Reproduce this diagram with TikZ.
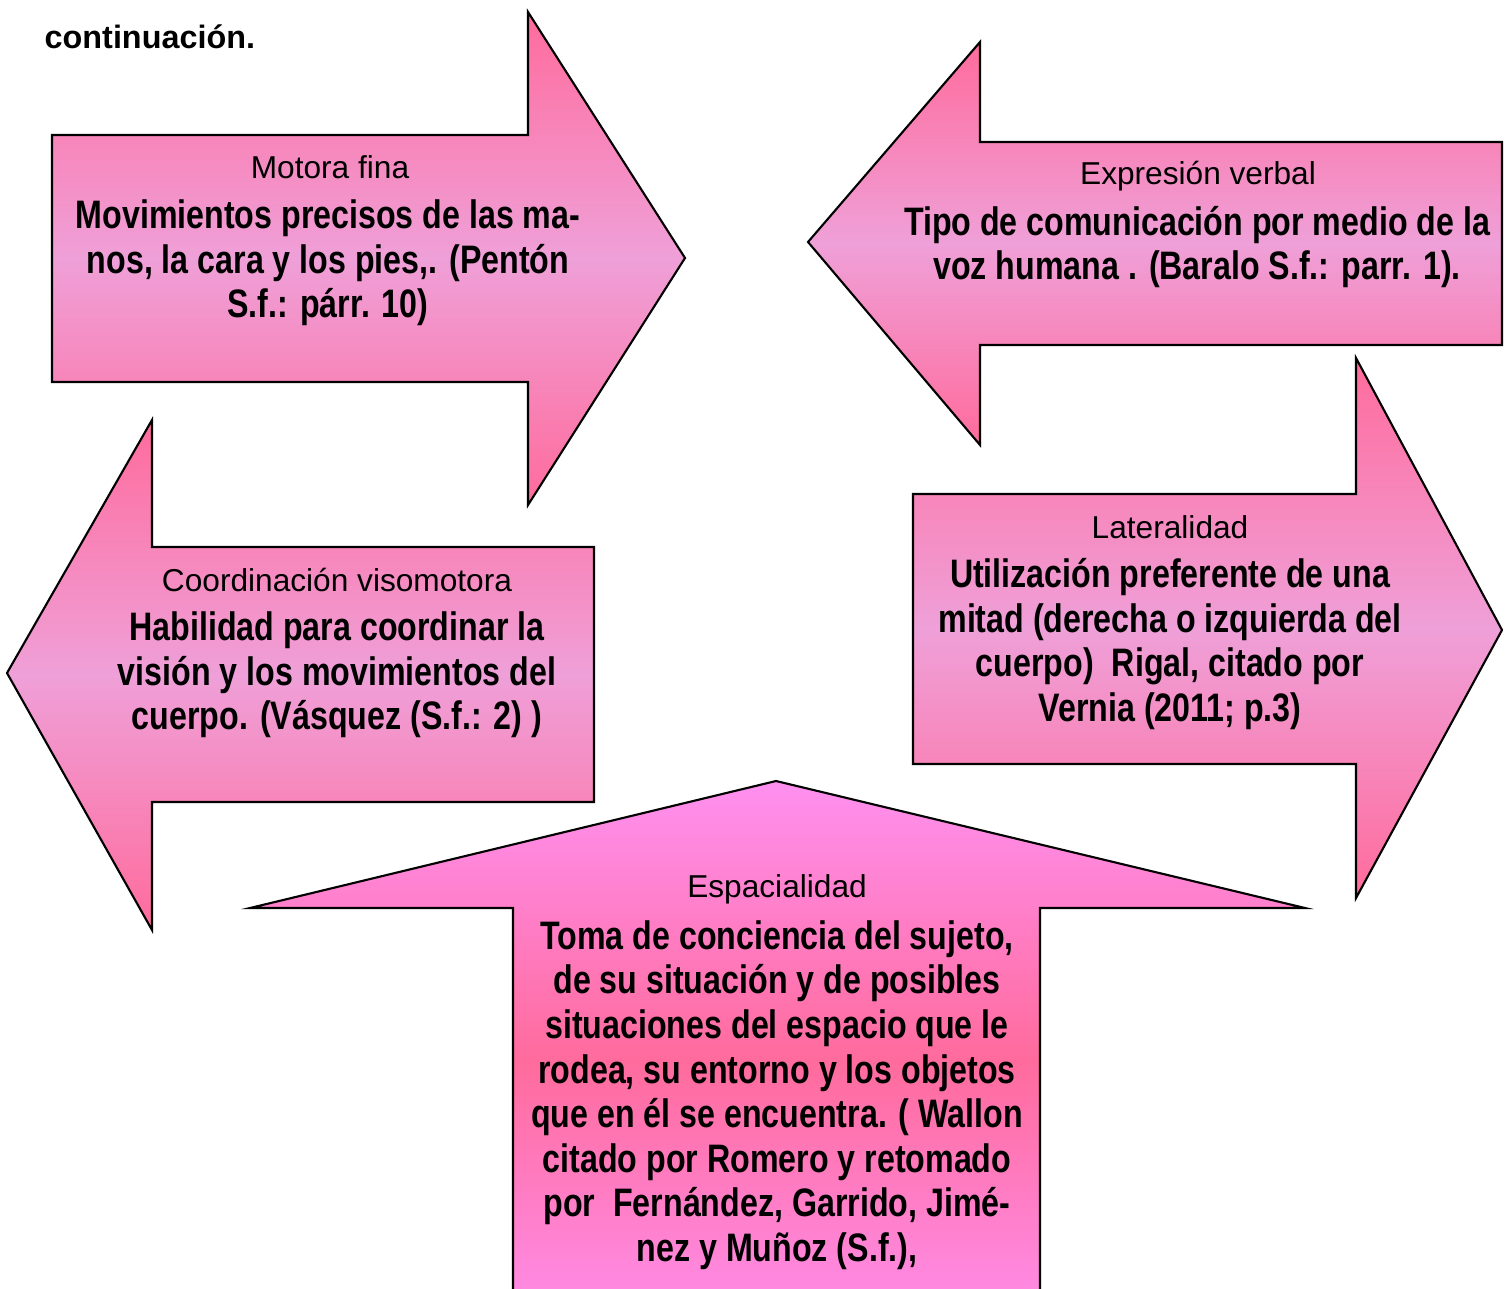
\documentclass[tikz,border=0pt]{standalone}
\usepackage{fontspec}
\setmainfont{Liberation Sans}
\newfontfamily\bodyfont[FakeStretch=0.81]{Liberation Sans}
\newfontfamily\headfont{Liberation Sans}
\definecolor{rosafuerte}{HTML}{FF6B9C}
\definecolor{rosaclaro}{HTML}{EFA0D8}
\definecolor{lila}{HTML}{FF90F0}
\tikzset{
  flecha/.style={draw=black, line width=0.6pt, top color=rosafuerte,
    bottom color=rosafuerte, middle color=rosaclaro},
  flechalila/.style={draw=black, line width=0.6pt, top color=lila,
    bottom color=lila, middle color=rosafuerte},
  titulo/.style={font=\headfont\fontsize{9}{10}\selectfont, inner sep=0pt},
  cuerpo/.style={font=\bodyfont\bfseries\fontsize{11.3}{12.66}\selectfont,
    align=center, inner sep=0pt},
}
\begin{document}
\begin{tikzpicture}[x=0.01cm, y=-0.01cm]
  \useasboundingbox (0,0) rectangle (1510,1288);
  \clip (0,0) rectangle (1510,1288);
  % flechas
  \path[flecha] (52,135) -- (528,135) -- (528,12) -- (685,258) -- (528,505)
    -- (528,382) -- (52,382) -- cycle;
  \path[flecha] (1502,142) -- (980,142) -- (980,42) -- (808,242) -- (980,445)
    -- (980,345) -- (1502,345) -- cycle;
  \path[flecha] (594,547) -- (152,547) -- (152,420) -- (7,673) -- (152,930)
    -- (152,802) -- (594,802) -- cycle;
  \path[flecha] (913,494) -- (1356,494) -- (1356,358) -- (1502,630) -- (1356,898)
    -- (1356,764) -- (913,764) -- cycle;
  \path[flechalila] (513,1340) -- (513,908) -- (250,908) -- (776,781) -- (1305,908)
    -- (1040,908) -- (1040,1340) -- cycle;
  % textos
  \node[font=\bfseries\fontsize{9.2}{11}\selectfont, anchor=west, inner sep=0pt]
    (continua) at (44,37) {continuación.};
  \node[titulo] (motoraT) at (330,167) {Motora fina};
  \node[cuerpo] (motoraB) at (328,263) {Movimientos precisos de las ma-\\nos, la cara y los pies,. (Pentón\\S.f.: párr. 10)};
  \node[titulo] (verbalT) at (1198,176) {Expresión verbal};
  \node[cuerpo] (verbalB) at (1197,247) {Tipo de comunicación por medio de la\\voz humana . (Baralo S.f.: parr. 1).};
  \node[titulo] (visoT) at (337,580) {Coordinación visomotora};
  \node[cuerpo] (visoB) at (337,675) {Habilidad para coordinar la\\visión y los movimientos del\\cuerpo. (Vásquez (S.f.: 2) )};
  \node[titulo] (lateralT) at (1170,527) {Lateralidad};
  \node[cuerpo] (lateralB) at (1170,644) {Utilización preferente de una\\mitad (derecha o izquierda del\\cuerpo)\ \ Rigal, citado por\\Vernia (2011; p.3)};
  \node[titulo] (espacioT) at (777,889) {Espacialidad};
  \node[cuerpo] (espacioB) at (777,1095) {Toma de conciencia del sujeto,\\de su situación y de posibles\\situaciones del espacio que le\\rodea, su entorno y los objetos\\que en él se encuentra. ( Wallon\\citado por Romero y retomado\\por\ \ Fernández, Garrido, Jimé-\\nez y Muñoz (S.f.),};
\end{tikzpicture}
\end{document}
